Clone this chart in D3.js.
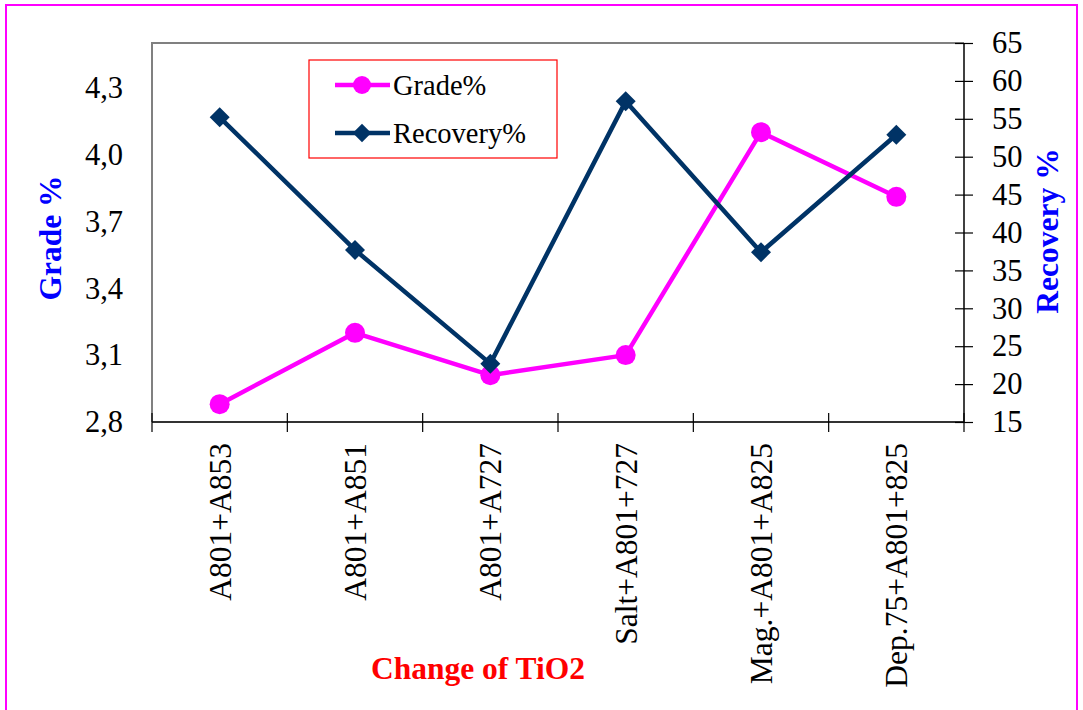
<!DOCTYPE html>
<html>
<head>
<meta charset="utf-8">
<script src="https://cdn.jsdelivr.net/npm/d3@7/dist/d3.min.js"></script>
<style>
  html, body { margin: 0; padding: 0; background: #fff; }
  svg text { font-family: "Liberation Serif", "Times New Roman", serif !important; }
</style>
</head>
<body>
<svg id="chart" width="1083" height="710"></svg>
<script>
// Flotation tests: TiO2 grade and recovery for each reagent combination
const categories = ["A801+A853", "A801+A851", "A801+A727", "Salt+A801+727", "Mag.+A801+A825", "Dep.75+A801+825"];
const gradeValues = [2.88, 3.20, 3.01, 3.10, 4.10, 3.81];
const recoveryValues = [55.2, 37.7, 22.7, 57.3, 37.4, 52.9];
const gradeTicks = [2.8, 3.1, 3.4, 3.7, 4.0, 4.3];
const recoveryTicks = [15, 20, 25, 30, 35, 40, 45, 50, 55, 60, 65];

const serif = "'Liberation Serif', 'Times New Roman', serif";
const svg = d3.select("#chart");
const plot = { left: 152, right: 964, top: 43, bottom: 422 };

// outer frame
svg.append("rect")
  .attr("x", 6).attr("y", 5).attr("width", 1071).attr("height", 720)
  .attr("fill", "none").attr("stroke", "#ff00ff").attr("stroke-width", 2);

const x = d3.scaleBand().domain(categories).range([plot.left, plot.right]).padding(0);
const yGrade = d3.scaleLinear().domain([2.8, 4.5]).range([plot.bottom, plot.top]);
const yRec = d3.scaleLinear().domain([15, 65]).range([plot.bottom, plot.top]);

// grey plot frame (top and left)
svg.append("path")
  .attr("d", `M${plot.left},${plot.bottom} V${plot.top} H${plot.right}`)
  .attr("fill", "none").attr("stroke", "#808080").attr("stroke-width", 2);

// left axis labels (no ticks)
const gLeft = svg.append("g").attr("transform", `translate(${plot.left},0)`)
  .call(d3.axisLeft(yGrade).tickValues(gradeTicks).tickSize(0).tickPadding(29)
    .tickFormat(d => d3.format(".1f")(d).replace(".", ",")));
gLeft.attr("font-family", serif);
gLeft.select(".domain").remove();
gLeft.selectAll("text").attr("font-size", 30.5).attr("fill", "#000");

// bottom axis with crossing ticks at category boundaries
const bottomLine = svg.append("g");
bottomLine.append("line")
  .attr("x1", plot.left).attr("x2", plot.right)
  .attr("y1", plot.bottom).attr("y2", plot.bottom)
  .attr("stroke", "#333").attr("stroke-width", 2);
const bounds = categories.map(c => x(c)).concat([plot.right]);
bottomLine.selectAll("line.tick").data(bounds).join("line")
  .attr("class", "tick")
  .attr("x1", d => d).attr("x2", d => d)
  .attr("y1", plot.bottom - 9).attr("y2", plot.bottom + 10)
  .attr("stroke", "#000").attr("stroke-width", 1.2);

// category labels, rotated
svg.append("g").attr("font-family", serif).selectAll("text").data(categories).join("text")
  .attr("transform", d => `translate(${x(d) + x.bandwidth() / 2},443) rotate(-90)`)
  .attr("text-anchor", "end")
  .attr("dy", "0.35em")
  .attr("font-size", 31.5)
  .attr("fill", "#000")
  .style("font-family", serif)
  .text(d => d);

// right axis with crossing ticks
const gRight = svg.append("g").attr("transform", `translate(${plot.right},0)`)
  .call(d3.axisRight(yRec).tickValues(recoveryTicks).tickSize(9).tickPadding(19));
gRight.attr("font-family", serif);
gRight.select(".domain").attr("stroke", "#000").attr("stroke-width", 1.5)
  .attr("d", `M0,${plot.top}V${plot.bottom}`);
gRight.selectAll(".tick line").attr("x1", -9).attr("stroke", "#000").attr("stroke-width", 1.2);
gRight.selectAll("text").attr("font-size", 30.5).attr("fill", "#000");

// series lines
const lineGrade = d3.line().x((d, i) => x(categories[i]) + x.bandwidth() / 2).y(d => yGrade(d));
const lineRec = d3.line().x((d, i) => x(categories[i]) + x.bandwidth() / 2).y(d => yRec(d));

svg.append("path").datum(gradeValues)
  .attr("d", lineGrade).attr("fill", "none")
  .attr("stroke", "#ff00ff").attr("stroke-width", 4.5).attr("stroke-linejoin", "round");
svg.append("path").datum(recoveryValues)
  .attr("d", lineRec).attr("fill", "none")
  .attr("stroke", "#003366").attr("stroke-width", 4.5).attr("stroke-linejoin", "round");

// markers
svg.append("g").selectAll("circle").data(gradeValues).join("circle")
  .attr("cx", (d, i) => x(categories[i]) + x.bandwidth() / 2)
  .attr("cy", d => yGrade(d))
  .attr("r", 10).attr("fill", "#ff00ff");

const diamond = d3.symbol().type(d3.symbolSquare).size(200);
svg.append("g").selectAll("path").data(recoveryValues).join("path")
  .attr("d", diamond)
  .attr("transform", (d, i) => `translate(${x(categories[i]) + x.bandwidth() / 2},${yRec(d)}) rotate(45)`)
  .attr("fill", "#003366");

// axis titles
svg.append("text")
  .attr("transform", "translate(50,238) rotate(-90)")
  .attr("text-anchor", "middle").attr("dy", "0.35em")
  .attr("font-size", 31.5).attr("font-weight", "bold").attr("fill", "#0000ff")
  .text("Grade %");
svg.append("text")
  .attr("transform", "translate(1047,231) rotate(-90)")
  .attr("text-anchor", "middle").attr("dy", "0.35em")
  .attr("font-size", 31.5).attr("font-weight", "bold").attr("fill", "#0000ff")
  .text("Recovery %");
svg.append("text")
  .attr("x", 478).attr("y", 679)
  .attr("text-anchor", "middle")
  .attr("font-size", 31.5).attr("font-weight", "bold").attr("fill", "#ff0000")
  .text("Change of TiO2");

// legend
const legend = svg.append("g");
legend.append("rect")
  .attr("x", 309).attr("y", 60).attr("width", 248).attr("height", 98)
  .attr("fill", "#fff").attr("stroke", "#ff0000").attr("stroke-width", 1.2);
const legendItems = [
  { name: "Grade%", color: "#ff00ff", shape: "circle", y: 85 },
  { name: "Recovery%", color: "#003366", shape: "diamond", y: 133 }
];
const li = legend.selectAll("g.item").data(legendItems).join("g").attr("class", "item");
li.append("line")
  .attr("x1", 335).attr("x2", 390)
  .attr("y1", d => d.y).attr("y2", d => d.y)
  .attr("stroke", d => d.color).attr("stroke-width", 4.5);
li.filter(d => d.shape === "circle").append("circle")
  .attr("cx", 362).attr("cy", d => d.y).attr("r", 9).attr("fill", d => d.color);
li.filter(d => d.shape === "diamond").append("path")
  .attr("d", d3.symbol().type(d3.symbolSquare).size(170))
  .attr("transform", d => `translate(362,${d.y}) rotate(45)`)
  .attr("fill", d => d.color);
li.append("text")
  .attr("x", 393).attr("y", d => d.y).attr("dy", "0.35em")
  .attr("font-size", 28.5).attr("fill", "#000")
  .text(d => d.name);
</script>
</body>
</html>
